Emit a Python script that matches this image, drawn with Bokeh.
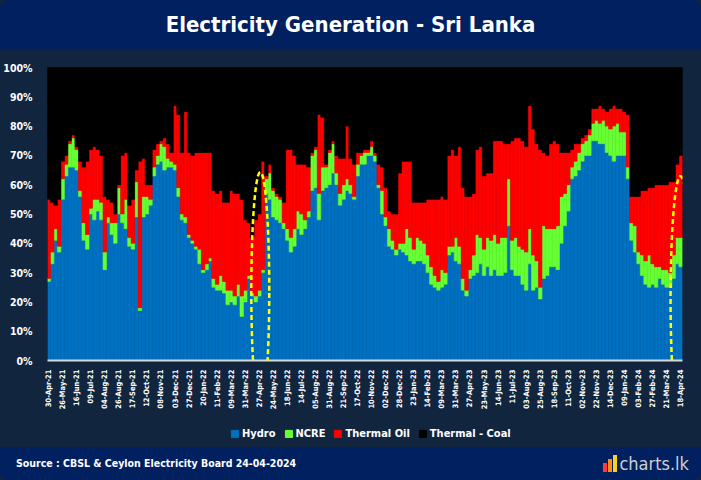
import numpy as np
from bokeh.plotting import figure
from bokeh.models import (ColumnDataSource, FixedTicker, Legend, LegendItem,
                          PolyAnnotation, Range1d, Div)
from bokeh.layouts import column
from bokeh.embed import file_html
from bokeh.resources import INLINE

# ---------------- data ----------------
tick_labels = ["30-Apr-21", "26-May-21", "16-Jun-21", "09-Jul-21", "04-Aug-21", "26-Aug-21",
               "17-Sep-21", "12-Oct-21", "08-Nov-21", "03-Dec-21", "27-Dec-21", "20-Jan-22",
               "11-Feb-22", "09-Mar-22", "31-Mar-22", "27-Apr-22", "24-May-22", "18-Jun-22",
               "14-Jul-22", "05-Aug-22", "31-Aug-22", "21-Sep-22", "17-Oct-22", "10-Nov-22",
               "02-Dec-22", "28-Dec-22", "23-Jan-23", "14-Feb-23", "09-Mar-23", "31-Mar-23",
               "27-Apr-23", "23-May-23", "14-Jun-23", "11-Jul-23", "03-Aug-23", "25-Aug-23",
               "18-Sep-23", "11-Oct-23", "02-Nov-23", "22-Nov-23", "14-Dec-23", "09-Jan-24",
               "03-Feb-24", "27-Feb-24", "21-Mar-24", "18-Apr-24"]

# shares (%) sampled four times per labelled interval
hydro = [27, 33, 41, 37, 55, 63, 66, 66, 65, 56,
         41, 38, 50, 48, 51, 48, 31, 47, 43, 40,
         50, 47, 45, 39, 38, 49, 17, 49, 50, 53,
         63, 67, 68, 65, 66, 66, 65, 56, 48, 47,
         42, 40, 38, 33, 30, 31, 34, 25, 24, 24,
         23, 19, 20, 19, 22, 15, 20, 28, 22, 20,
         22, 30, 57, 55, 49, 48, 47, 45, 41, 37,
         39, 45, 43, 45, 49, 58, 59, 48, 58, 59,
         60, 64, 60, 53, 55, 58, 57, 55, 63, 67,
         67, 70, 70, 68, 59, 50, 46, 39, 38, 36,
         38, 37, 36, 34, 33, 34, 34, 33, 30, 26,
         25, 24, 25, 26, 36, 37, 34, 33, 24, 22,
         28, 29, 30, 33, 29, 32, 29, 31, 29, 29,
         30, 46, 31, 29, 29, 26, 24, 33, 24, 25,
         21, 28, 29, 32, 32, 31, 40, 46, 51, 62,
         63, 65, 68, 70, 70, 75, 75, 74, 74, 71,
         70, 68, 70, 70, 70, 62, 41, 37, 33, 29,
         26, 25, 26, 25, 28, 26, 25, 25, 28, 33,
         32]
ncre = [1, 4, 4, 2, 7, 4, 8, 10, 7, 2,
        6, 5, 2, 7, 4, 6, 6, 2, 4, 7,
        9, 3, 10, 3, 2, 12, 1, 7, 6, 2,
        3, 3, 6, 8, 3, 2, 2, 3, 2, 2,
        1, 1, 1, 5, 1, 2, 1, 3, 2, 5,
        4, 5, 4, 3, 4, 7, 4, 1, 1, 2,
        2, 1, 5, 9, 9, 8, 8, 2, 4, 5,
        6, 6, 7, 3, 2, 12, 13, 9, 8, 7,
        11, 10, 4, 4, 5, 4, 3, 1, 4, 3,
        4, 1, 3, 2, 1, 8, 3, 6, 3, 2,
        2, 3, 9, 8, 5, 8, 7, 7, 6, 6,
        4, 3, 6, 4, 3, 2, 8, 6, 4, 2,
        3, 7, 13, 9, 9, 10, 12, 12, 11, 13,
        12, 16, 10, 13, 10, 12, 13, 12, 12, 9,
        4, 18, 16, 13, 13, 15, 16, 11, 9, 4,
        5, 6, 6, 5, 7, 6, 7, 7, 8, 9,
        9, 12, 11, 8, 8, 4, 6, 9, 4, 7,
        8, 11, 7, 7, 4, 5, 6, 5, 8, 9,
        10]
thermal_oil = [27, 17, 8, 16, 6, 3, 1, 1, 1, 10,
               19, 25, 20, 18, 17, 16, 19, 6, 7, 3,
               1, 20, 16, 11, 15, 4, 50, 13, 4, 5,
               6, 4, 1, 3, 5, 3, 20, 25, 21, 36,
               28, 29, 32, 33, 40, 38, 36, 30, 31, 29,
               27, 30, 34, 35, 31, 33, 24, 18, 19, 26,
               26, 37, 1, 3, 1, 1, 1, 7, 27, 30,
               25, 16, 17, 19, 15, 1, 1, 27, 17, 1,
               1, 1, 6, 12, 9, 18, 9, 11, 4, 1,
               1, 1, 2, 1, 7, 8, 10, 6, 9, 12,
               24, 28, 23, 26, 16, 12, 13, 14, 19, 23,
               26, 28, 25, 25, 31, 33, 28, 34, 31, 32,
               25, 21, 29, 31, 25, 22, 23, 32, 35, 33,
               32, 12, 34, 34, 37, 37, 36, 42, 43, 40,
               47, 25, 25, 29, 30, 28, 15, 14, 11, 6,
               6, 3, 2, 2, 2, 5, 4, 6, 4, 5,
               7, 7, 5, 8, 7, 18, 9, 10, 19, 22,
               24, 23, 26, 28, 28, 29, 29, 31, 25, 25,
               28]
# thermal coal is the remainder of each day's generation
thermal_coal = (100 - np.array(hydro) - np.array(ncre) - np.array(thermal_oil)).tolist()

series_names = ["Hydro", "NCRE", "Thermal Oil", "Thermal - Coal"]
series_colors = ["#0070C0", "#66FF33", "#FF0000", "#000000"]

# ---------------- styling ----------------
NAVY = "#002060"
BODY = "#12253f"
FONT = "DejaVu Sans Condensed"
W = 701

n = len(hydro)
x_pos = np.arange(n) / 4.0
src = ColumnDataSource(dict(x=x_pos, hydro=hydro, ncre=ncre, oil=thermal_oil, coal=thermal_coal))

# ---------------- title banner ----------------
top = Div(width=W, height=50, margin=0, text=(
    f'<div style="width:{W}px;height:50px;background:{NAVY};color:white;'
    f'font-family:\'{FONT}\';font-weight:bold;font-size:22px;'
    'display:flex;align-items:center;justify-content:center;'
    'border-radius:8px 8px 0 0;">Electricity Generation - Sri Lanka</div>'))

# ---------------- main chart ----------------
p = figure(width=W, height=362, output_backend="svg", toolbar_location=None,
           x_range=Range1d(-0.08, 45.13), y_range=Range1d(0, 100),
           min_border_left=46, min_border_right=19, min_border_top=17,
           min_border_bottom=51)
p.background_fill_color = "black"
p.border_fill_color = BODY
p.outline_line_color = None
p.grid.visible = False

rs = p.vbar_stack(["hydro", "ncre", "oil", "coal"], x="x", width=0.25, source=src,
                  color=series_colors, line_color=series_colors, line_width=0.6)

p.xaxis.ticker = FixedTicker(ticks=list(range(len(tick_labels))))
p.xaxis.major_label_overrides = {i: t for i, t in enumerate(tick_labels)}
p.xaxis.major_label_orientation = np.pi / 2
p.xaxis.axis_line_color = "#d9d9d9"
p.xaxis.axis_line_width = 2
p.xaxis.major_tick_line_color = None
p.xaxis.minor_tick_line_color = None
p.xaxis.major_label_standoff = 3
p.xaxis.major_label_text_color = "white"
p.xaxis.major_label_text_font = FONT
p.xaxis.major_label_text_font_size = "7.5px"
p.xaxis.major_label_text_font_style = "bold"

p.yaxis.ticker = FixedTicker(ticks=list(range(0, 101, 10)))
p.yaxis.major_label_overrides = {v: f"{v}%" for v in range(0, 101, 10)}
p.yaxis.axis_line_color = None
p.yaxis.major_tick_line_color = None
p.yaxis.minor_tick_line_color = None
p.yaxis.major_label_standoff = 9
p.yaxis.major_label_text_color = "white"
p.yaxis.major_label_text_font = FONT
p.yaxis.major_label_text_font_size = "10.5px"
p.yaxis.major_label_text_font_style = "bold"

# highlight ellipses (dashed yellow)
t = np.linspace(0, 2 * np.pi, 120)
for cx, rx, cy, ry in [(15.07, 0.64, 23.8, 40.5), (44.99, 0.71, 21.1, 41.8)]:
    p.add_layout(PolyAnnotation(xs=(cx + rx * np.cos(t)).tolist(), ys=(cy + ry * np.sin(t)).tolist(),
                                fill_alpha=0, line_color="#FFFF00", line_alpha=1.0,
                                line_width=2.5, line_dash="5 3"))

# ---------------- legend strip ----------------
lg = figure(width=W, height=35, output_backend="svg", toolbar_location=None,
            x_range=Range1d(0, 1), y_range=Range1d(0, 1),
            x_axis_location=None, y_axis_location=None,
            min_border_left=46, min_border_right=19, min_border_top=0, min_border_bottom=0)
lg.background_fill_color = None
lg.border_fill_color = None
lg.styles = {"background-color": BODY}
lg.outline_line_color = None
lg.grid.visible = False
# key-only renderers (no drawn data, NaN placeholders) so the legend shows the series colours
key_renderers = [lg.vbar(x=[np.nan], top=[np.nan], width=1, color=c) for c in series_colors]
legend = Legend(items=[LegendItem(label=nm, renderers=[r]) for nm, r in zip(series_names, key_renderers)],
                orientation="horizontal", location=(183, 7),
                glyph_width=9, glyph_height=9, label_height=12, label_standoff=3,
                spacing=8, padding=2, margin=0,
                label_text_color="white", label_text_font=FONT,
                label_text_font_style="bold", label_text_font_size="11px",
                background_fill_alpha=0, border_line_color=None)
lg.add_layout(legend, "center")

# ---------------- footer ----------------
icon = ('<span style="display:inline-flex;align-items:flex-end;height:18px;margin-right:2px;">'
        '<span style="display:inline-block;width:4px;height:9px;background:#ff3b3b;margin-right:1px;"></span>'
        '<span style="display:inline-block;width:4px;height:13px;background:#ff8c1a;margin-right:1px;"></span>'
        '<span style="display:inline-block;width:4px;height:17px;background:#ffd21a;"></span></span>')
bot = Div(width=W, height=33, margin=0, text=(
    f'<div style="width:{W}px;height:33px;background:{NAVY};display:flex;align-items:center;'
    'justify-content:space-between;box-sizing:border-box;padding:0 12px 0 16px;'
    'border-radius:0 0 8px 8px;">'
    f'<span style="color:white;font-family:\'{FONT}\';font-weight:bold;font-size:10.5px;">'
    'Source : CBSL &amp; Ceylon Electricity Board 24-04-2024</span>'
    f'<span style="display:flex;align-items:center;color:#cfcfcf;font-family:\'{FONT}\';font-size:18px;">'
    f'{icon}charts.lk</span></div>'))

layout = column(top, p, lg, bot, spacing=0, styles={"background-color": BODY})
open("out.html", "w").write(file_html(layout, INLINE))
